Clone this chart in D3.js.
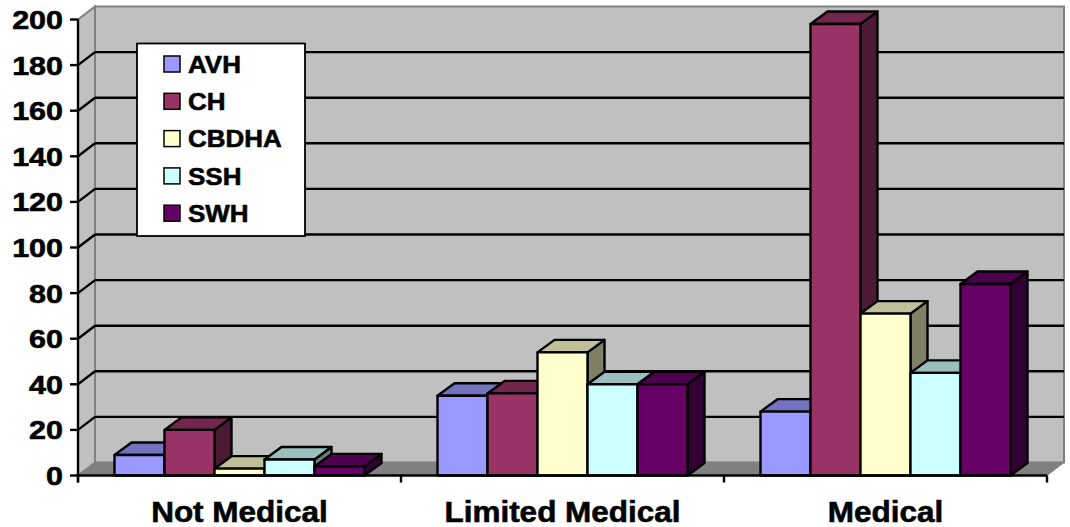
<!DOCTYPE html>
<html><head><meta charset="utf-8">
<script src="https://cdn.jsdelivr.net/npm/d3@7"></script>
<style>
html,body{margin:0;padding:0;background:#fff;}
text{font-family:"Liberation Sans",Arial,sans-serif;font-weight:bold;fill:#000;stroke:#000;stroke-width:0.6px;}
</style></head>
<body>
<svg id="chart" width="1070" height="527"></svg>
<script>
const categories = ["Not Medical", "Limited Medical", "Medical"];
const series = ["AVH", "CH", "CBDHA", "SSH", "SWH"];
const colors = ["#9999FF", "#993366", "#FFFFCC", "#CCFFFF", "#660066"];
const AVH = [9, 35, 28];
const CH = [20, 36, 198];
const CBDHA = [3, 54, 71];
const SSH = [7, 40, 45];
const SWH = [4, 40, 84];
const yTicks = [0, 20, 40, 60, 80, 100, 120, 140, 160, 180, 200];

const values = [AVH, CH, CBDHA, SSH, SWH];

const svg = d3.select("#chart");
const X0 = 78, X1 = 1047, Y0 = 475.5, Y1 = 19.5;
const DX = 17, DY = -13;      // wall depth
const BDX = 17, BDY = -12.5;  // bar depth
const barGroupW = 250;

const x = d3.scaleBand().domain(categories).range([X0, X1]);
const xs = d3.scaleBand().domain(series).range([0, barGroupW]);
const y = d3.scaleLinear().domain([0, 200]).range([Y0, Y1]);

// Walls
const g = svg.append("g");
g.append("polygon")
  .attr("points", [[X0, Y0], [X0, Y1], [X0 + DX, Y1 + DY], [X0 + DX, Y0 + DY]].join(" "))
  .attr("fill", "#C0C0C0").attr("stroke", "#808080").attr("stroke-width", 2);
g.append("rect")
  .attr("x", X0 + DX).attr("y", Y1 + DY)
  .attr("width", X1 - X0).attr("height", Y0 - Y1)
  .attr("fill", "#C0C0C0").attr("stroke", "#808080").attr("stroke-width", 2);
g.append("polygon")
  .attr("points", [[X0, Y0], [X0 + DX, Y0 + DY], [X1 + DX, Y0 + DY], [X1, Y0]].join(" "))
  .attr("fill", "#808080").attr("stroke", "#808080").attr("stroke-width", 1);

const grid = yTicks.filter(t => t > 0 && t < 200);
g.selectAll(".gb").data(grid).join("line")
  .attr("x1", X0 + DX).attr("x2", X1 + DX)
  .attr("y1", d => y(d) + DY).attr("y2", d => y(d) + DY)
  .attr("stroke", "#000").attr("stroke-width", 2.4);
g.selectAll(".gs").data(grid).join("line")
  .attr("x1", X0).attr("x2", X0 + DX)
  .attr("y1", d => y(d)).attr("y2", d => y(d) + DY)
  .attr("stroke", "#000").attr("stroke-width", 2.4);

// Bars
const bars = svg.append("g");
const bw = xs.bandwidth();
categories.forEach((c, ci) => {
  const off = x(c) + (x.bandwidth() - barGroupW) / 2;
  series.forEach((s, si) => {
    const v = values[si][ci];
    const bx = off + xs(s);
    const yv = y(v);
    const base = d3.rgb(colors[si]);
    const top = d3.rgb(base.r * 0.75, base.g * 0.75, base.b * 0.75);
    const side = d3.rgb(base.r * 0.5, base.g * 0.5, base.b * 0.5);
    const bg = bars.append("g")
      .attr("stroke", "#000").attr("stroke-width", 2.4).attr("stroke-linejoin", "round");
    bg.append("polygon")
      .attr("points", [[bx + bw, yv], [bx + bw + BDX, yv + BDY], [bx + bw + BDX, Y0 + BDY], [bx + bw, Y0]].join(" "))
      .attr("fill", side);
    bg.append("polygon")
      .attr("points", [[bx, yv], [bx + BDX, yv + BDY], [bx + bw + BDX, yv + BDY], [bx + bw, yv]].join(" "))
      .attr("fill", top);
    bg.append("rect")
      .attr("x", bx).attr("y", yv).attr("width", bw).attr("height", Y0 - yv)
      .attr("fill", base);
  });
});

// Axes
const ax = svg.append("g");
ax.append("line").attr("x1", X0).attr("x2", X0).attr("y1", Y1).attr("y2", Y0 + 7)
  .attr("stroke", "#000").attr("stroke-width", 2.4);
ax.append("line").attr("x1", X0).attr("x2", X1).attr("y1", Y0).attr("y2", Y0)
  .attr("stroke", "#000").attr("stroke-width", 2.4);
ax.selectAll(".yt").data(yTicks).join("line")
  .attr("x1", X0 - 8).attr("x2", X0)
  .attr("y1", d => y(d)).attr("y2", d => y(d))
  .attr("stroke", "#000").attr("stroke-width", 2.4);
ax.selectAll(".yl").data(yTicks).join("text")
  .attr("transform", d => `translate(63,${y(d) + 9.5}) scale(1.15,1)`)
  .attr("text-anchor", "end").attr("font-size", 26.5)
  .text(d => d);
const bounds = categories.map(c => x(c)).concat([X1]);
ax.selectAll(".xt").data(bounds).join("line")
  .attr("x1", d => d).attr("x2", d => d)
  .attr("y1", Y0).attr("y2", Y0 + 7)
  .attr("stroke", "#000").attr("stroke-width", 2.4);
ax.selectAll(".xl").data(categories).join("text")
  .attr("transform", d => `translate(${x(d) + x.bandwidth() / 2},521.5) scale(1.05,1)`)
  .attr("text-anchor", "middle").attr("font-size", 30)
  .text(d => d);

// Legend
const lg = svg.append("g");
lg.append("rect").attr("x", 137).attr("y", 43.5).attr("width", 168).attr("height", 192.5)
  .attr("fill", "#fff").attr("stroke", "#000").attr("stroke-width", 1.8);
series.forEach((s, i) => {
  const cy = 64 + i * 37.3;
  lg.append("rect").attr("x", 164).attr("y", cy - 8).attr("width", 16).attr("height", 16)
    .attr("fill", colors[i]).attr("stroke", "#000").attr("stroke-width", 1.5);
  lg.append("text")
    .attr("transform", `translate(188,${cy + 8.8}) scale(1.06,1)`)
    .attr("font-size", 24.5).text(s);
});
</script>
</body></html>
